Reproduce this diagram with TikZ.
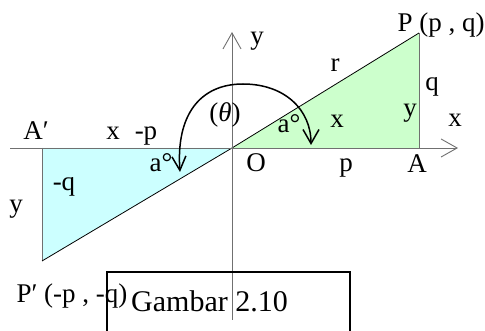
\documentclass[tikz,border=0pt]{standalone}
\usepackage{fontspec}
\setmainfont{Liberation Serif}
\usetikzlibrary{arrows.meta}
\definecolor{lgreen}{HTML}{CCFFCC}
\definecolor{lcyan}{HTML}{CCFFFF}
\definecolor{axgray}{HTML}{707070}
\tikzset{
  lbl/.style={anchor=base,inner sep=0pt,font=\fontsize{27}{32}\selectfont},
  axisline/.style={draw=axgray,line width=0.9pt},
  sideline/.style={draw=axgray,line width=0.9pt},
  hypline/.style={draw=black,line width=0.8pt},
  axtip/.style={-{Straight Barb[length=16pt,width=18pt,line width=0.9pt]}},
  arcline/.style={draw=black,line width=1.5pt,
    {Straight Barb[length=14pt,width=14pt,line width=1.5pt]}-{Straight Barb[length=14pt,width=16pt,line width=1.5pt]}},
  capbox/.style={draw=black,line width=1.4pt}
}
\begin{document}
\begin{tikzpicture}[x=1pt,y=-1pt]
\useasboundingbox (0,0) rectangle (485,331);
% key points
\coordinate (O) at (232,148);
\coordinate (A) at (419,148);
\coordinate (P) at (419,33);
\coordinate (Ap) at (42,148);
\coordinate (Pp) at (42,261);
\coordinate (xs) at (10,148);
\coordinate (xe) at (458,148);
\coordinate (ys) at (232,320);
\coordinate (ye) at (232,32);
\coordinate (arcL) at (180,172);
\coordinate (arcT) at (243,84);
\coordinate (arcR) at (311,145);
\coordinate (boxTL) at (107,272);
\coordinate (boxBR) at (350,340);
% triangles
\fill[lgreen] (O) -- (A) -- (P) -- cycle;
\fill[lcyan] (O) -- (Ap) -- (Pp) -- cycle;
\draw[sideline] (A) -- (P);
\draw[sideline] (Ap) -- (Pp);
\draw[hypline] (O) -- (P);
\draw[hypline] (O) -- (Pp);
% axes
\draw[axisline,axtip] (xs) -- (xe);
\draw[axisline,axtip] (ys) -- (ye);
% angle arc
\draw[arcline] (arcL) .. controls (176,115) and (200,84) .. (arcT)
  .. controls (285,84) and (311,110) .. (arcR);
% caption box
\draw[capbox] (boxTL) rectangle (boxBR);
% labels
\node[lbl] (ly) at (257,45) {y};
\node[lbl] (lP) at (441,32) {P (p , q)};
\node[lbl] (lr) at (335,72) {r};
\node[lbl] (lq) at (432,91) {q};
\node[lbl] (ly2) at (410,117) {y};
\node[lbl] (lx) at (455,127) {x};
\node[lbl] (lx2) at (337,128) {x};
\node[lbl] (la) at (289,133) {a°};
\node[lbl] (lth) at (225,122) {(\textit{θ})};
\node[lbl] (lO) at (256,172) {O};
\node[lbl] (lp) at (346,172) {p};
\node[lbl] (lA) at (417,173) {A};
\node[lbl] (la2) at (161,172) {a°};
\node[lbl] (lAp) at (36,140) {A′};
\node[lbl] (lx3) at (113,140) {x};
\node[lbl] (lmp) at (146,140) {-p};
\node[lbl] (lmq) at (64,191) {-q};
\node[lbl] (ly3) at (16,213) {y};
\node[lbl] (lPp) at (72,302) {P′ (-p , -q)};
\node[anchor=base west,inner sep=0pt,font=\fontsize{30}{36}\selectfont] (cap) at (131,312) {Gambar 2.10};
\end{tikzpicture}
\end{document}
